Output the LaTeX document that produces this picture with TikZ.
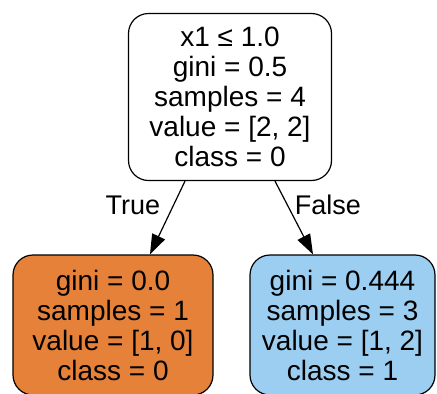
\documentclass[tikz,border=0pt]{standalone}
\usepackage{fontspec}
\setmainfont{Liberation Sans}
\usetikzlibrary{arrows.meta}

\definecolor{leafone}{HTML}{E58139}
\definecolor{leaftwo}{HTML}{9CCEF2}

\tikzset{
  treebox/.style={draw, line width=1.2pt, rounded corners=20pt, align=center,
    inner sep=0pt, font=\fontsize{28}{30}\selectfont},
  edge/.style={line width=1.2pt, -{Triangle[length=20pt,width=14pt]}},
  edgelabel/.style={font=\fontsize{27}{30}\selectfont}
}

\begin{document}
\begin{tikzpicture}[x=1pt,y=-1pt]
\clip (0,0) rectangle (437,394);
\useasboundingbox (0,0) rectangle (437,394);

\node[treebox, minimum width=203pt, minimum height=167pt] (root) at (230,97)
  {x1 ≤ 1.0\\gini = 0.5\\samples = 4\\value = [2, 2]\\class = 0};

\node[treebox, fill=leafone, minimum width=200pt, minimum height=140pt] (leftleaf) at (113,325)
  {gini = 0.0\\samples = 1\\value = [1, 0]\\class = 0};

\node[treebox, fill=leaftwo, minimum width=185pt, minimum height=140pt] (rightleaf) at (342.5,325)
  {gini = 0.444\\samples = 3\\value = [1, 2]\\class = 1};

\draw[edge] ([xshift=-45pt]root.south) -- ([xshift=37pt]leftleaf.north);
\draw[edge] ([xshift=45pt]root.south) -- ([xshift=-29.5pt]rightleaf.north);

\node[edgelabel] (truelabel) at (133,205) {True};
\node[edgelabel] (falselabel) at (328,205) {False};

\end{tikzpicture}
\end{document}
